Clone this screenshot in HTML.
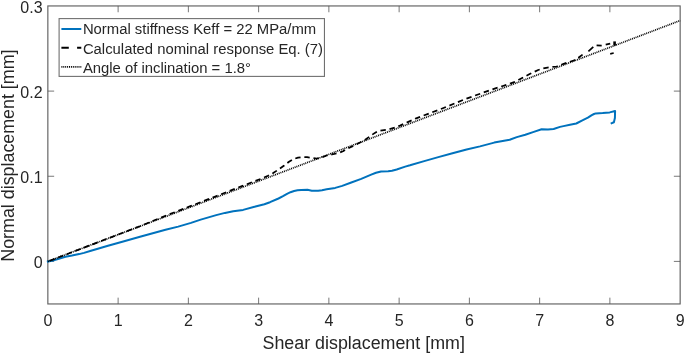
<!DOCTYPE html>
<html lang="en"><head><meta charset="utf-8"><title>Shear vs normal displacement</title>
<style>
html,body{margin:0;padding:0;background:#fff;overflow:hidden;}
svg{display:block;}
text{font-family:"Liberation Sans",Arial,sans-serif;fill:#262626;}
.tk{font-size:16px;}
.lb{font-size:17.85px;}
.lg{font-size:14.85px;}
</style></head><body>
<svg width="685" height="353" viewBox="0 0 685 353">
<rect x="0" y="0" width="685" height="353" fill="#ffffff"/>
<rect x="47.85" y="5.95" width="632.3" height="298.0" stroke="#606060" stroke-width="1.15" fill="none"/>
<text class="tk" x="47.85" y="326.2" text-anchor="middle">0</text>
<path d="M118.11,303.95 V297.65 M118.11,5.95 V12.25" stroke="#555" stroke-width="0.8" fill="none"/>
<text class="tk" x="118.11" y="326.2" text-anchor="middle">1</text>
<path d="M188.36,303.95 V297.65 M188.36,5.95 V12.25" stroke="#555" stroke-width="0.8" fill="none"/>
<text class="tk" x="188.36" y="326.2" text-anchor="middle">2</text>
<path d="M258.62,303.95 V297.65 M258.62,5.95 V12.25" stroke="#555" stroke-width="0.8" fill="none"/>
<text class="tk" x="258.62" y="326.2" text-anchor="middle">3</text>
<path d="M328.87,303.95 V297.65 M328.87,5.95 V12.25" stroke="#555" stroke-width="0.8" fill="none"/>
<text class="tk" x="328.87" y="326.2" text-anchor="middle">4</text>
<path d="M399.13,303.95 V297.65 M399.13,5.95 V12.25" stroke="#555" stroke-width="0.8" fill="none"/>
<text class="tk" x="399.13" y="326.2" text-anchor="middle">5</text>
<path d="M469.38,303.95 V297.65 M469.38,5.95 V12.25" stroke="#555" stroke-width="0.8" fill="none"/>
<text class="tk" x="469.38" y="326.2" text-anchor="middle">6</text>
<path d="M539.64,303.95 V297.65 M539.64,5.95 V12.25" stroke="#555" stroke-width="0.8" fill="none"/>
<text class="tk" x="539.64" y="326.2" text-anchor="middle">7</text>
<path d="M609.89,303.95 V297.65 M609.89,5.95 V12.25" stroke="#555" stroke-width="0.8" fill="none"/>
<text class="tk" x="609.89" y="326.2" text-anchor="middle">8</text>
<text class="tk" x="680.15" y="326.2" text-anchor="middle">9</text>
<path d="M47.85,261.40 H54.15 M680.15,261.40 H673.85" stroke="#555" stroke-width="0.8" fill="none"/>
<text class="tk" x="42.6" y="267.95" text-anchor="end">0</text>
<path d="M47.85,176.25 H54.15 M680.15,176.25 H673.85" stroke="#555" stroke-width="0.8" fill="none"/>
<text class="tk" x="42.6" y="182.80" text-anchor="end">0.1</text>
<path d="M47.85,91.10 H54.15 M680.15,91.10 H673.85" stroke="#555" stroke-width="0.8" fill="none"/>
<text class="tk" x="42.6" y="97.65" text-anchor="end">0.2</text>
<text class="tk" x="42.6" y="12.50" text-anchor="end">0.3</text>
<text class="lb" x="363.7" y="348.6" text-anchor="middle">Shear displacement [mm]</text>
<text class="lb" transform="translate(14.3,155.6) rotate(-90)" text-anchor="middle">Normal displacement [mm]</text>
<clipPath id="c"><rect x="47.85" y="5.95" width="632.3" height="298.0"/></clipPath>
<g fill="none" stroke-linejoin="round">
<path d="M46.9,261.8 L51.9,260.7 L58.0,259.0 L65.5,256.8 L72.0,255.6 L79.1,254.1 L84.0,252.9 L91.0,250.8 L108.0,245.7 L125.0,241.0 L140.0,236.8 L165.5,229.8 L178.2,226.6 L191.0,222.9 L200.7,219.6 L216.2,215.1 L225.0,212.9 L233.2,211.2 L243.1,209.9 L254.5,206.8 L264.4,204.3 L270.0,202.2 L278.5,198.5 L283.0,196.1 L287.0,193.8 L290.5,192.2 L294.1,191.0 L297.5,190.3 L301.2,189.9 L307.5,189.8 L311.8,190.7 L318.2,190.8 L322.0,190.2 L326.7,189.3 L335.2,187.9 L342.2,185.9 L351.3,182.5 L361.2,178.9 L371.2,174.7 L376.0,172.8 L381.1,171.5 L388.2,171.3 L392.0,170.7 L396.7,169.5 L405.2,166.6 L410.0,165.3 L424.2,161.1 L438.3,157.1 L452.5,153.3 L466.6,149.5 L480.0,146.4 L494.2,142.6 L509.7,139.7 L516.8,137.1 L525.3,134.7 L533.8,131.9 L541.6,129.3 L548.0,129.4 L553.6,129.0 L560.0,126.9 L563.5,126.1 L570.0,124.7 L576.3,123.5 L581.9,120.6 L587.9,117.7 L591.8,115.1 L594.0,114.0 L595.8,113.4 L602.7,113.1 L609.7,112.4 L615.1,111.0 L614.9,118.0 L613.9,122.3 L610.7,123.6" stroke="#0072bd" stroke-width="2"/>
<path d="M46.9,261.8 L140.0,226.2 L152.7,221.0 L165.5,215.8 L191.0,205.9 L216.4,196.1 L241.9,186.1 L262.3,178.3 L268.0,175.8 L272.8,173.3 L278.5,169.5 L284.2,165.5 L289.0,161.8 L294.0,158.9 L298.0,157.6 L302.6,157.0 L307.0,157.2 L311.0,157.8 L316.7,158.6 L321.0,157.6 L326.7,155.5 L332.0,154.4 L338.0,153.2 L343.0,151.2 L346.5,149.2 L354.1,145.5 L364.3,140.4 L372.0,134.8 L376.0,132.3 L379.6,130.7 L387.3,129.7 L394.9,127.6 L400.0,125.6 L415.5,118.6 L441.0,109.0 L466.5,98.6 L492.0,89.5 L502.8,86.0 L514.2,82.2 L521.2,78.5 L529.7,74.0 L538.2,70.0 L543.0,68.5 L547.5,67.6 L552.0,67.0 L556.7,66.5 L563.7,63.8 L573.7,60.5 L578.4,57.8 L583.0,54.3" stroke="#000" stroke-width="1.75" stroke-dasharray="5.4 3.8" stroke-dashoffset="-2.9"/>
<path d="M588.4,51.3 L593.3,46.9 M596.6,45.4 L601.7,45.7 M605.7,44.7 L610.2,43.7 M610.2,53.8 L613.7,53" stroke="#000" stroke-width="1.7"/>
<path d="M614.6,41.4 V45.6" stroke="#000" stroke-width="2.6"/>
<path d="M47.85,261.4 L680.15,20.56" stroke="#000" stroke-width="1.7" stroke-dasharray="1 0.9"/>
</g>
<rect x="59.1" y="18.6" width="265.35" height="57.8" fill="#fff" stroke="#707070" stroke-width="1.1"/>
<path d="M61.4,29 H81.3" stroke="#0072bd" stroke-width="2"/>
<path d="M61.4,47.7 H68.8 M77.1,47.7 H81.3" stroke="#000" stroke-width="1.9"/>
<path d="M61.4,66.9 H81.3" stroke="#000" stroke-width="1.7" stroke-dasharray="1 0.9"/>
<text class="lg" x="82.9" y="33.9">Normal stiffness Keff = 22 MPa/mm</text>
<text class="lg" x="82.9" y="54">Calculated nominal response Eq. (7)</text>
<text class="lg" x="82.9" y="72.9">Angle of inclination = 1.8°</text>
</svg></body></html>
